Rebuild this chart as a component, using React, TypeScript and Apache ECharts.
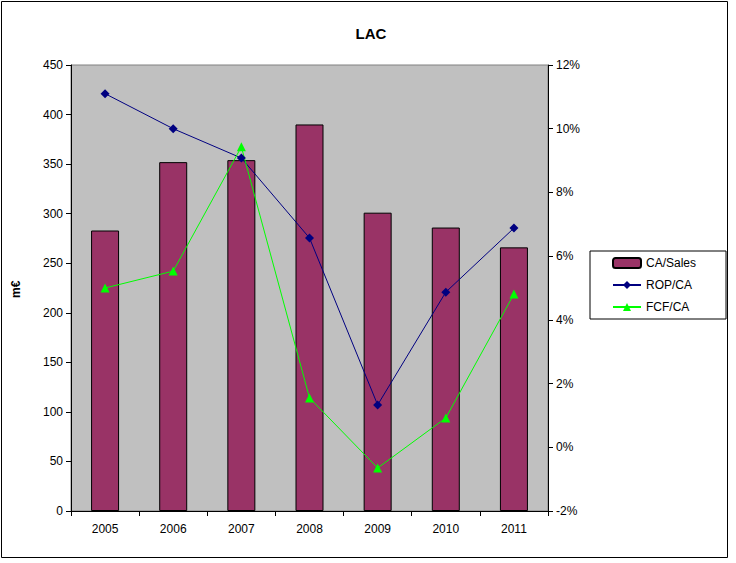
import { useEffect, useRef } from 'react';
import * as echarts from 'echarts';

const years = ['2005', '2006', '2007', '2008', '2009', '2010', '2011'];
const sales = [283, 352, 354, 390, 301, 286, 266];
const ropCa = [11.1, 10.0, 9.08, 6.57, 1.33, 4.87, 6.88];
const fcfCa = [5.0, 5.53, 9.43, 1.55, -0.65, 0.92, 4.81];

const font = 'Arial, "Liberation Sans", sans-serif';

const App = () => {
    const chartRef = useRef<HTMLDivElement | null>(null);

    useEffect(() => {
        if (!chartRef.current) return;
        const myChart = echarts.init(chartRef.current, null, { renderer: 'svg' });
        const axisText = { color: '#000', fontFamily: font, fontSize: 12 };
        myChart.setOption({
            animation: false,
            backgroundColor: '#fff',
            textStyle: { fontFamily: font },
            title: {
                text: 'LAC', left: 366, top: 21, textAlign: 'center',
                textStyle: { fontSize: 15, fontWeight: 'bold', color: '#000', fontFamily: font }
            },
            graphic: [
                { type: 'rect', shape: { x: 1.5, y: 1.5, width: 726, height: 556 }, style: { fill: 'none', stroke: '#000', lineWidth: 1 } },
                { type: 'rect', z: -1, shape: { x: 71, y: 65, width: 477, height: 446 }, style: { fill: '#C0C0C0', stroke: '#808080', lineWidth: 1 } },
                { type: 'text', x: 10, y: 298, rotation: Math.PI / 2, style: { text: 'm€', font: `bold 12px ${font}`, fill: '#000' } }
            ],
            grid: { left: 71, right: 188, top: 65, bottom: 52 },
            legend: {
                orient: 'vertical', left: 590, top: 251, width: 130,
                backgroundColor: '#fff', borderColor: '#000', borderWidth: 1,
                padding: [6, 30, 6, 22], itemGap: 10, itemWidth: 28, itemHeight: 10,
                textStyle: { fontSize: 12, color: '#000', fontFamily: font },
                data: ['CA/Sales', 'ROP/CA', 'FCF/CA']
            },
            xAxis: {
                type: 'category', data: years,
                axisLine: { lineStyle: { color: '#000' } },
                axisTick: { show: true, alignWithLabel: false, lineStyle: { color: '#000' } },
                axisLabel: { ...axisText, margin: 12 }
            },
            yAxis: [
                {
                    type: 'value', min: 0, max: 450, interval: 50,
                    axisLine: { show: true, lineStyle: { color: '#000' } },
                    axisTick: { show: true, lineStyle: { color: '#000' } },
                    splitLine: { show: false },
                    axisLabel: axisText
                },
                {
                    type: 'value', min: -2, max: 12, interval: 2,
                    axisLine: { show: true, lineStyle: { color: '#000' } },
                    axisTick: { show: true, lineStyle: { color: '#000' } },
                    splitLine: { show: false },
                    axisLabel: { ...axisText, formatter: '{value}%' }
                }
            ],
            series: [
                {
                    name: 'CA/Sales', type: 'bar', data: sales, barWidth: 28,
                    itemStyle: { color: '#993366', borderColor: '#000', borderWidth: 1 }
                },
                {
                    name: 'ROP/CA', type: 'line', yAxisIndex: 1, data: ropCa,
                    symbol: 'diamond', symbolSize: 9,
                    lineStyle: { color: '#000080', width: 1 },
                    itemStyle: { color: '#000080' }
                },
                {
                    name: 'FCF/CA', type: 'line', yAxisIndex: 1, data: fcfCa,
                    symbol: 'triangle', symbolSize: 9,
                    lineStyle: { color: '#00FF00', width: 1 },
                    itemStyle: { color: '#00FF00' }
                }
            ]
        });
        return () => { myChart.dispose(); };
    }, []);

    return <div ref={chartRef} style={{ position: 'absolute', left: 0, top: 0, width: '736px', height: '563px' }} />;
};

export default App;
